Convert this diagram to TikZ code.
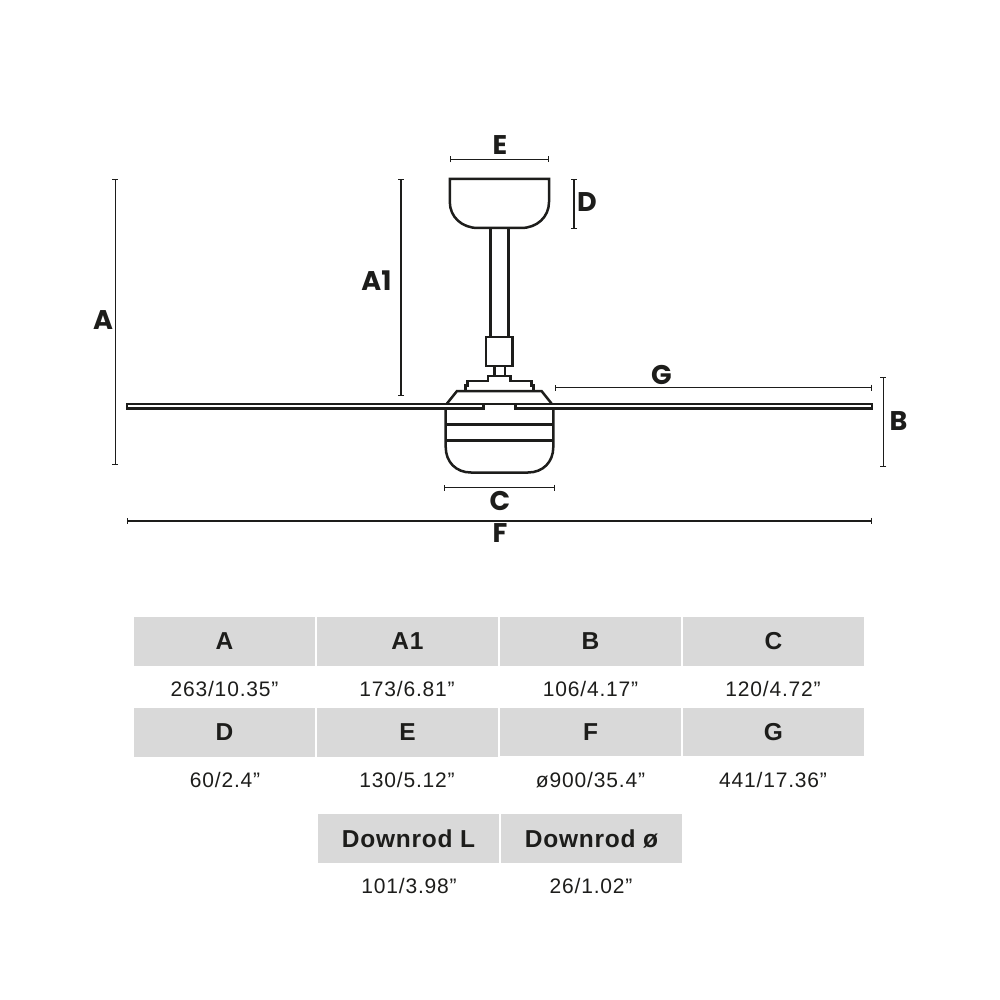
\documentclass[tikz,border=0pt]{standalone}
\usepackage{fontspec}
\setmainfont{Liberation Sans}
\newfontfamily\labfont{Poppins}
\newfontfamily\headfont{Liberation Sans}[LetterSpace=3]
\newfontfamily\valfont{Liberation Sans}[LetterSpace=4]
\usetikzlibrary{arrows.meta}
\definecolor{ink}{HTML}{1D1D1B}
\definecolor{cell}{HTML}{D9D9D9}
\tikzset{
  x=1pt,y=-1pt,
  outline/.style={draw=ink,line width=2.5pt,line join=miter},
  bladeline/.style={draw=ink,line width=2.3pt,line join=miter},
  band/.style={draw=ink,line width=2.8pt},
  thinout/.style={draw=ink,line width=1.3pt},
  dimline/.style={draw=ink,line width=1.4pt,{Bar[width=6pt,line width=1.2pt]}-{Bar[width=6pt,line width=1.2pt]}},
  lab/.style={text=ink,font=\labfont\bfseries\fontsize{27}{27}\selectfont,inner sep=0pt},
  hcell/.style={fill=cell,text=ink,minimum width=181pt,minimum height=49pt,inner sep=0pt,font=\headfont\bfseries\fontsize{24.5}{25}\selectfont},
  vcell/.style={text=ink,inner sep=0pt,font=\valfont\fontsize{21}{21}\selectfont},
}
\begin{document}
\begin{tikzpicture}
\useasboundingbox (0,0) rectangle (1000,1000);
% Ceiling canopy
\draw[outline] (449.8,179) -- (549,179) -- (549,202) .. controls (549,217) and (537,228) .. (521,228) -- (478,228) .. controls (462,228) and (449.8,217) .. (449.8,202) -- cycle;
% Downrod
\draw[outline] (490.5,228) -- (490.5,337);
\draw[outline] (508.3,228) -- (508.3,337);
% Coupling
\draw[outline] (486.2,337) rectangle (512.3,366);
\draw[outline] (494.3,366) -- (494.3,376);
\draw[outline] (504.8,366) -- (504.8,376);
% Stepped collar
\draw[outline] (465.5,391) -- (465.5,385.5) -- (467.5,385.5) -- (467.5,381) -- (488,381) -- (488,376) -- (510.5,376) -- (510.5,381) -- (531.5,381) -- (531.5,385.5) -- (533.5,385.5) -- (533.5,391);
% Motor top
\draw[outline] (447,403.5) -- (457,391) -- (541.5,391) -- (551.5,403.5);
% Blades
\draw[bladeline] (483.5,404) -- (127,404) -- (127,408.5) -- (483.5,408.5) -- cycle;
\draw[bladeline] (515.5,404) -- (872.3,404) -- (872.3,408.5) -- (515.5,408.5) -- cycle;
\draw[thinout] (483.5,404) -- (515.5,404);
% Motor body and lamp
\draw[outline] (445.7,408.5) -- (445.7,447) .. controls (445.7,462) and (456,472.5) .. (471,472.5) -- (528,472.5) .. controls (543,472.5) and (553.3,462) .. (553.3,447) -- (553.3,408.5);
\draw[band] (445.7,424.5) -- (553.3,424.5);
\draw[band] (445.7,440.5) -- (553.3,440.5);
% Dimension lines
\coordinate (at) at (115.2,179); \coordinate (ab) at (115.2,465);
\coordinate (a1t) at (401,179); \coordinate (a1b) at (401,396);
\coordinate (el) at (450,159.4); \coordinate (er) at (549,159.4);
\coordinate (dt) at (574,179); \coordinate (db) at (574,229.5);
\coordinate (gl) at (555,387.5); \coordinate (gr) at (872,387.5);
\coordinate (bt) at (883.4,376.5); \coordinate (bb) at (883.4,466.7);
\coordinate (cl) at (444,487.6); \coordinate (cr) at (555,487.6);
\coordinate (fl) at (127,520.8); \coordinate (fr) at (872,520.8);
\draw[dimline] (at) -- (ab);
\draw[dimline] (a1t) -- (a1b);
\draw[dimline] (el) -- (er);
\draw[dimline] (dt) -- (db);
\draw[dimline] (gl) -- (gr);
\draw[dimline] (bt) -- (bb);
\draw[dimline] (cl) -- (cr);
\draw[dimline] (fl) -- (fr);
% Dimension letters
\node[lab] (lA) at (103,320.5) {A};
\node[lab] (lAa) at (376.5,281) {A1};
\node[lab] (lE) at (500,145.5) {E};
\node[lab] (lD) at (587,202.5) {D};
\node[lab] (lG) at (661.5,375) {G};
\node[lab] (lB) at (898.5,421) {B};
\node[lab] (lC) at (500,501) {C};
\node[lab] (lF) at (500,533.5) {F};
% Table
\node[hcell] (hA) at (224.5,641.5) {\raisebox{-0.5pt}{A}};
\node[hcell] (hAa) at (407.5,641.5) {\raisebox{-0.5pt}{A1}};
\node[hcell] (hB) at (590.5,641.5) {\raisebox{-0.5pt}{B}};
\node[hcell] (hC) at (773.5,641.5) {\raisebox{-0.5pt}{C}};
\node[vcell] (vA) at (224.5,688.5) {263/10.35”};
\node[vcell] (vAa) at (407,688.5) {173/6.81”};
\node[vcell] (vB) at (590.5,688.5) {106/4.17”};
\node[vcell] (vC) at (773,688.5) {120/4.72”};
\node[hcell] (hD) at (224.5,732.5) {D};
\node[hcell] (hE) at (407.5,732.5) {E};
\node[hcell,minimum height=48pt] (hF) at (590.5,732) {F};
\node[hcell,minimum height=48pt] (hG) at (773.5,732) {G};
\node[vcell] (vD) at (225,780) {60/2.4”};
\node[vcell] (vE) at (407,780) {130/5.12”};
\node[vcell] (vF) at (590.5,780) {ø900/35.4”};
\node[vcell] (vG) at (773,780) {441/17.36”};
\node[hcell] (hL) at (408.5,838.5) {Downrod L};
\node[hcell] (hO) at (591.5,838.5) {Downrod ø};
\node[vcell] (vL) at (409,886) {101/3.98”};
\node[vcell] (vO) at (591,886) {26/1.02”};
\end{tikzpicture}
\end{document}
